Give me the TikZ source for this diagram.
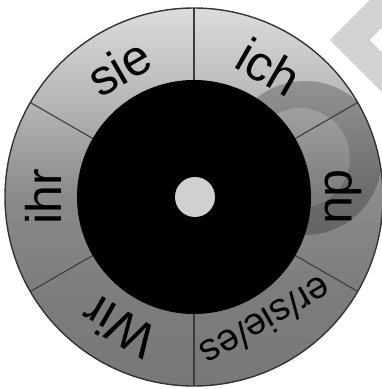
\documentclass[tikz,border=0pt]{standalone}
\usepackage{fontspec}
\setmainfont{Liberation Sans}
\definecolor{ringtop}{HTML}{DCDCDC}
\definecolor{ringupper}{HTML}{B4B4B4}
\definecolor{ringmid}{HTML}{8A8A8A}
\definecolor{ringlower}{HTML}{7D7D7D}
\definecolor{ringlow}{HTML}{787878}
\definecolor{rim}{HTML}{333333}
\definecolor{spokegrey}{HTML}{3C3C3C}
\definecolor{hubgrey}{HTML}{D0D0D0}
\definecolor{stampgrey}{HTML}{D3D3D3}
\pgfdeclareverticalshading{ringshade}{100bp}{color(0bp)=(ringlow); color(25bp)=(ringlow);
  color(38bp)=(ringlower); color(50bp)=(ringmid); color(62bp)=(ringupper);
  color(75bp)=(ringtop); color(100bp)=(ringtop)}
\tikzset{
  every node/.style={font=\fontsize{50}{54}\selectfont},
  spoke/.style={draw=spokegrey,line width=1.1pt},
  rimline/.style={draw=rim,line width=1.4pt},
  word/.style={anchor=base,inner sep=0pt},
  smallword/.style={word,font=\fontsize{38}{42}\selectfont},
  stampband/.style={fill=black,opacity=.23,even odd rule},
  stampcore/.style={fill=black,opacity=.1}}

\begin{document}
\begin{tikzpicture}[x=1pt,y=1pt]
\useasboundingbox (-194,-192) rectangle (188,197);
\fill[stampgrey] (136,157)--(176,197)--(188,197)--(188,105)--cycle;
\fill[white] (176,157)--(188,169)--(188,145)--cycle;
\shade[shading=ringshade] (0,0) circle (189);
\begin{scope}
\clip (0,0) circle (189);
\path[stampband] (111,39) circle (77) (106,39) circle (50);
\path[stampcore] (106,39) circle (50);
\end{scope}
\draw[spoke] (90:117)--(90:189);\draw[spoke] (270:117)--(270:189);
\draw[spoke] (30:117)--(30:189);\draw[spoke] (150:117)--(150:189);
\draw[spoke] (210:117)--(210:189);\draw[spoke] (330:117)--(330:189);
\draw[rimline] (0,0) circle (189);
\fill[black] (0,0) circle (117);
\fill[hubgrey] (1,0) circle (20);
\node[word,rotate=-30] (ich) at (60:132) {ich};
\node[word,rotate=30] (sie) at (120:132) {sie};
\node[word,rotate=90] (ihr) at (180:132) {ihr};
\node[word,rotate=150] (wir) at (240:132) {Wir};
\node[smallword,rotate=210] (ersiees) at (300:131) {er/sie/es};
\node[word,rotate=-90] (du) at (0:132) {du};
\end{tikzpicture}
\end{document}
